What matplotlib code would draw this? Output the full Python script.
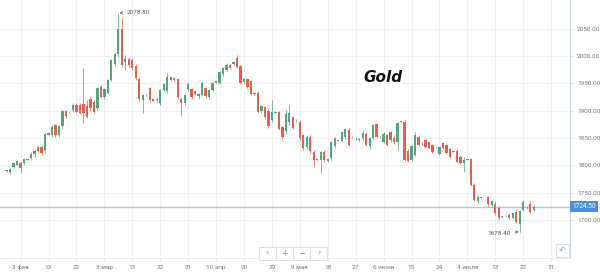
import numpy as np
import matplotlib
matplotlib.use("Agg")
from matplotlib import pyplot as plt
from matplotlib import transforms
from matplotlib.patches import Rectangle

plt.rcParams['font.family'] = ['Roboto', 'DejaVu Sans']

# daily bars, index 0 = 3 Feb (Sun..Fri sessions)
bars = list(range(-4, 148))
opens = [1791, 1787, 1797, 1801, 1804, 1804, 1810, 1813, 1820, 1833, 1834, 1828, 1859, 1855, 1873, 1855,
         1871, 1900, 1897, 1901, 1911, 1910, 1912, 1908, 1922, 1915, 1904, 1943, 1925, 1932, 1956, 1985,
         2004, 2050, 1988, 1995, 1993, 1982, 1957, 1919, 1928, 1942, 1921, 1922, 1914, 1937, 1936, 1962,
         1959, 1957, 1922, 1913, 1940, 1940, 1935, 1930, 1929, 1941, 1924, 1937, 1954, 1951, 1966, 1975,
         1983, 1986, 1996, 1981, 1952, 1958, 1954, 1932, 1932, 1899, 1906, 1900, 1883, 1896, 1898, 1870,
         1862, 1880, 1889, 1882, 1880, 1855, 1834, 1852, 1825, 1812, 1810, 1825, 1808, 1813, 1835, 1846,
         1845, 1851, 1864, 1852, 1849, 1847, 1849, 1858, 1836, 1849, 1875, 1851, 1843, 1855, 1861, 1850,
         1843, 1879, 1880, 1827, 1810, 1819, 1852, 1840, 1846, 1843, 1837, 1833, 1820, 1840, 1837, 1830,
         1826, 1827, 1816, 1805, 1810, 1811, 1764, 1734, 1740, 1738, 1742, 1728, 1730, 1722, 1706, 1707,
         1710, 1703, 1715, 1692, 1718, 1724, 1730, 1719]
highs = [1792, 1795, 1806, 1809, 1808, 1813, 1812, 1824, 1828, 1836, 1838, 1860, 1860, 1874, 1876, 1874,
         1901, 1902, 1900, 1913, 1914, 1914, 1977, 1919, 1926, 1919, 1944, 1947, 1942, 1958, 1995, 2006,
         2078.8, 2068.7, 2001, 1998, 1996, 1986, 1962, 1930, 1930, 1944, 1923, 1925, 1939, 1951, 1968, 1964,
         1961, 1959, 1925, 1931, 1953, 1942, 1937, 1932, 1952, 1943, 1940, 1953, 1955, 1973, 1980, 1987,
         1985, 1991, 2002, 1983, 1960, 1960, 1956, 1934, 1935, 1911, 1909, 1903, 1919, 1899, 1900, 1872,
         1901, 1910, 1891, 1884, 1882, 1857, 1855, 1855, 1828, 1814, 1826, 1828, 1813, 1845, 1851, 1847,
         1862, 1868, 1869, 1854, 1852, 1849, 1862, 1860, 1851, 1875, 1877, 1853, 1860, 1857, 1863, 1855,
         1880, 1881, 1883, 1829, 1837, 1861, 1856, 1842, 1848, 1845, 1839, 1835, 1836, 1842, 1839, 1832,
         1827, 1829, 1818, 1815, 1812, 1813, 1767, 1745, 1741, 1739, 1744, 1737, 1735, 1725, 1708, 1709,
         1712, 1713, 1718, 1719, 1736.6, 1726, 1735, 1727]
lows = [1788, 1784, 1795, 1799, 1786, 1800, 1809, 1810, 1816, 1824, 1818, 1822, 1854, 1852, 1852, 1852,
        1868, 1886, 1896, 1897, 1896, 1893, 1877, 1886, 1900, 1895, 1901, 1923, 1922, 1930, 1954, 1982,
        1998, 1980, 1974, 1980, 1975, 1956, 1917, 1895, 1926, 1915, 1916, 1916, 1910, 1935, 1932, 1954,
        1954, 1922, 1891, 1910, 1936, 1922, 1929, 1921, 1926, 1923, 1921, 1935, 1950, 1949, 1964, 1972,
        1976, 1984, 1978, 1948, 1949, 1941, 1928, 1928, 1895, 1896, 1885, 1869, 1880, 1895, 1864, 1848,
        1858, 1874, 1866, 1880, 1847, 1828, 1830, 1822, 1796, 1809, 1786, 1806, 1806, 1810, 1832, 1844,
        1843, 1848, 1835, 1849, 1846, 1845, 1846, 1835, 1831, 1846, 1850, 1849, 1840, 1835, 1843, 1839,
        1828, 1877, 1807, 1806, 1808, 1817, 1836, 1838, 1832, 1829, 1823, 1832, 1818, 1829, 1820, 1814,
        1824, 1804, 1802, 1788, 1809, 1762, 1734, 1731, 1739, 1737, 1726, 1724, 1710, 1700, 1704, 1705,
        1701, 1701, 1694, 1678.4, 1716, 1721, 1713, 1717]
closes = [1789, 1793, 1804, 1807, 1795, 1811, 1811, 1821, 1826, 1827, 1822, 1858, 1855, 1870, 1855, 1872,
          1899, 1890, 1898, 1910, 1898, 1896, 1895, 1889, 1905, 1897, 1942, 1925, 1940, 1956, 1992, 2004,
          2050, 1983, 1995, 1984, 1978, 1960, 1921, 1928, 1929, 1919, 1918, 1919, 1937, 1949, 1962, 1956,
          1956, 1924, 1913, 1928, 1948, 1925, 1931, 1926, 1950, 1926, 1938, 1951, 1951, 1971, 1977, 1983,
          1978, 1989, 1980, 1951, 1958, 1944, 1930, 1930, 1898, 1908, 1889, 1872, 1898, 1897, 1866, 1852,
          1893, 1895, 1869, 1883, 1849, 1831, 1852, 1826, 1809, 1810, 1825, 1810, 1811, 1843, 1849, 1845,
          1860, 1867, 1838, 1851, 1849, 1847, 1859, 1838, 1849, 1873, 1852, 1851, 1858, 1838, 1846, 1843,
          1877, 1880, 1810, 1808, 1835, 1855, 1838, 1840, 1834, 1831, 1825, 1834, 1834, 1831, 1822, 1816,
          1825, 1806, 1804, 1810, 1811, 1764, 1737, 1742, 1740, 1738, 1730, 1735, 1712, 1703, 1706, 1707,
          1703, 1712, 1697, 1716, 1733, 1723, 1715, 1724.5]

tick_bars = list(range(0, 153, 8))
tick_labels = ['3 фев', '13', '22', '3 мар', '13', '22', '31', '10 апр', '20', '29',
               '9 мая', '18', '27', '6 июня', '15', '24', '4 июля', '13', '22', '31']
price_ticks = [1700, 1750, 1800, 1850, 1900, 1950, 2000, 2050]
last_price = 1724.50
max_bar, max_price = 28, 2078.80
min_bar, min_price = 143, 1678.40

up_col = '#52a67c'
down_col = '#e8604c'

fig = plt.figure(figsize=(6, 2.77), dpi=100)
ax = fig.add_axes([0, 1 - 258 / 277, 570 / 600, 258 / 277])
ax.set_xlim(-5.9, 157.4)
ax.set_ylim(1630.5, 2102.2)

o = np.array(opens, float)
h = np.array(highs, float)
l = np.array(lows, float)
c = np.array(closes, float)
cols = [up_col if cc >= oo else down_col for oo, cc in zip(o, c)]

ax.vlines(bars, l, h, colors=cols, lw=0.7, zorder=3, alpha=0.75)
body = np.maximum(np.abs(c - o), 1.2)
ax.bar(bars, body, bottom=np.minimum(o, c), width=0.65, color=cols, lw=0, zorder=4)

ax.axhline(last_price, color='#a6c8f2', lw=1.0, zorder=2)
tr = transforms.blended_transform_factory(ax.transAxes, ax.transData)
ax.text(1.004, last_price, '%.2f' % last_price, transform=tr, ha='left', va='center',
        fontsize=4.7, color='white', clip_on=False,
        bbox=dict(boxstyle='square,pad=0.35', fc='#4a8fdc', ec='none'))

ax.annotate('%.2f' % max_price, xy=(max_bar + 0.3, max_price), xytext=(30.4, max_price),
            fontsize=4.6, color='#555555', va='center', ha='left',
            arrowprops=dict(arrowstyle='->', color='#666666', lw=0.5, shrinkA=1, shrinkB=0))
ax.annotate('%.2f' % min_price, xy=(min_bar - 0.3, min_price), xytext=(140.4, 1675.5),
            fontsize=4.6, color='#555555', va='center', ha='right',
            arrowprops=dict(arrowstyle='->', color='#666666', lw=0.5, shrinkA=1, shrinkB=0))

ax.text(103.8, 1960.5, 'Gold', fontsize=11, fontweight='bold', fontstyle='italic',
        family='DejaVu Sans', color='#111111', ha='center', va='center')

ax.yaxis.tick_right()
ax.set_yticks(price_ticks)
ax.set_yticklabels(['%.2f' % v for v in price_ticks])
ax.set_xticks(tick_bars)
ax.set_xticklabels(tick_labels)
ax.tick_params(axis='both', labelsize=4.6, colors='#dde3ea', labelcolor='#777777',
               length=2.5, width=0.6, pad=2.5)
ax.grid(color='#eef1f5', lw=0.6, zorder=0)
ax.set_axisbelow(True)
for s in ['top', 'left']:
    ax.spines[s].set_visible(False)
ax.spines['right'].set_color('#c8d5e5')
ax.spines['bottom'].set_color('#e3e8ee')
ax.spines['right'].set_linewidth(0.8)
ax.spines['bottom'].set_linewidth(0.6)


def px_rect(x0, y0, x1, y1):
    return Rectangle((x0 / 600, 1 - y1 / 277), (x1 - x0) / 600, (y1 - y0) / 277,
                     transform=fig.transFigure, fc='white', ec='#d6dce4', lw=0.6, zorder=10)


for (x0, x1), sym in zip([(259, 276), (276, 293), (293, 310), (310, 327)], ['‹', '+', '−', '›']):
    fig.add_artist(px_rect(x0, 247, x1, 260))
    fig.text((x0 + x1) / 2 / 600, 1 - 253.5 / 277, sym, ha='center', va='center',
             fontsize=6, color='#8a8f96', zorder=11, family='DejaVu Sans')

fig.add_artist(px_rect(556, 244, 569, 257))
fig.text(562.5 / 600, 1 - 250.5 / 277, '↶', ha='center', va='center', fontsize=6,
         color='#9aa0a6', zorder=11, family='DejaVu Sans')

fig.savefig('out.png', dpi=100, facecolor='white')
